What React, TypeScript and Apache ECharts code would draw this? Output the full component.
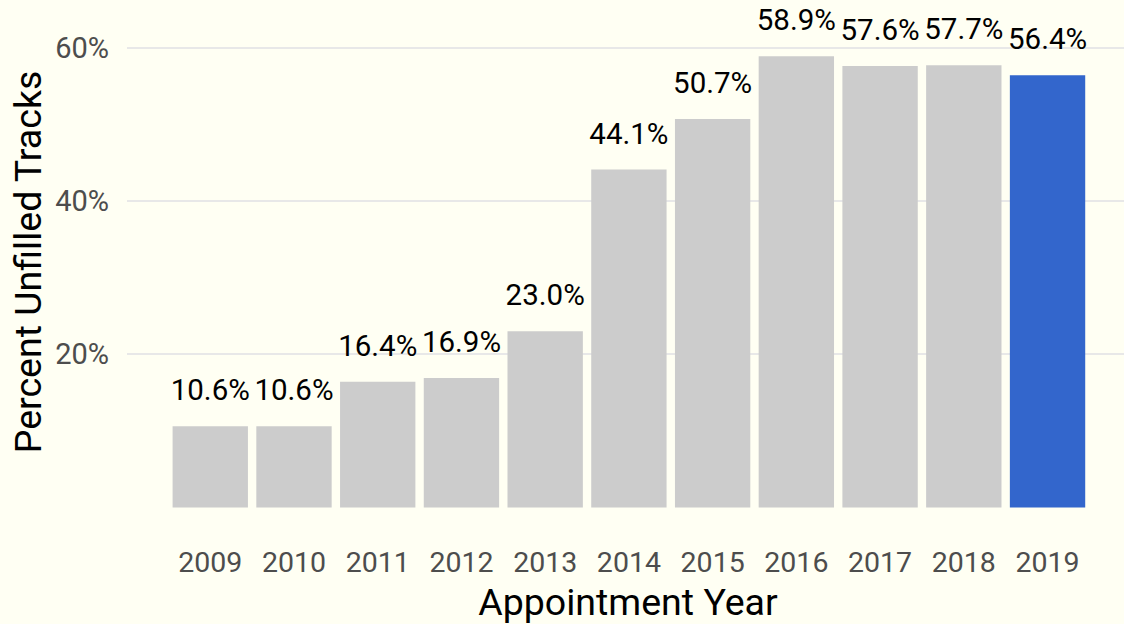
import React, { useEffect, useRef } from "react";
import * as echarts from "echarts";

const years = ["2009", "2010", "2011", "2012", "2013", "2014", "2015", "2016", "2017", "2018", "2019"];
const values = [10.6, 10.6, 16.4, 16.9, 23.0, 44.1, 50.7, 58.9, 57.6, 57.7, 56.4];
const highlightYear = "2019";
const yMin = 0;
const yMax = 60;
const yStep = 20;
const xTitle = "Appointment Year";
const yTitle = "Percent Unfilled Tracks";

const BG = "#FFFFF3";
const FONT = "Roboto";

export default function App() {
  const ref = useRef<HTMLDivElement>(null);
  useEffect(() => {
    if (!ref.current) return;
    const chart = echarts.init(ref.current, undefined, { renderer: "svg" });
    const top = 47.7;
    const bottom = 624 - 507.5;
    chart.setOption({
      animation: false,
      backgroundColor: BG,
      textStyle: { fontFamily: FONT },
      grid: [
        { left: 127, right: 0, top, bottom },
        { left: 168.4, right: 34.6, top, bottom },
      ],
      xAxis: [
        { type: "category", gridIndex: 0, data: years, show: false },
        {
          type: "category",
          gridIndex: 1,
          data: years,
          axisLine: { show: false },
          axisTick: { show: false },
          axisLabel: {
            color: "#4D4D4D",
            fontSize: 28.5,
            fontFamily: FONT,
            margin: 40,
            interval: 0,
            hideOverlap: false,
          },
        },
      ],
      yAxis: [
        {
          type: "value",
          gridIndex: 0,
          min: yMin,
          max: yMax,
          interval: yStep,
          axisLine: { show: false },
          axisTick: { show: false },
          axisLabel: {
            color: "#4D4D4D",
            fontSize: 29,
            fontFamily: FONT,
            margin: 18,
            formatter: (v: number) => (v === 0 ? "" : v + "%"),
          },
          splitLine: {
            show: true,
            lineStyle: { color: ["transparent", "#E8E8E8", "#E8E8E8", "#E8E8E8"], width: 2.2 },
          },
        },
        { type: "value", gridIndex: 1, min: yMin, max: yMax, interval: yStep, show: false },
      ],
      series: [
        {
          type: "bar",
          xAxisIndex: 1,
          yAxisIndex: 1,
          barWidth: "90%",
          data: values.map((v, i) => ({
            value: v,
            itemStyle: { color: years[i] === highlightYear ? "#3366CC" : "#CCCCCC" },
          })),
          label: {
            show: true,
            position: "top",
            distance: 21,
            color: "#000000",
            fontSize: 29.5,
            fontFamily: FONT,
            formatter: (p: any) => Number(p.value).toFixed(1) + "%",
          },
        },
      ],
      graphic: [
        {
          type: "text",
          x: 628,
          y: 602,
          style: {
            text: xTitle,
            fontSize: 37.5,
            fontFamily: FONT,
            fill: "#000000",
            textAlign: "center",
            textVerticalAlign: "middle",
          },
        },
        {
          type: "text",
          x: 28,
          y: 262,
          rotation: Math.PI / 2,
          style: {
            text: yTitle,
            fontSize: 37.5,
            fontFamily: FONT,
            fill: "#000000",
            textAlign: "center",
            textVerticalAlign: "middle",
          },
        },
      ],
    });
    return () => chart.dispose();
  }, []);
  return (
    <div
      ref={ref}
      style={{ position: "absolute", left: 0, top: 0, width: 1124, height: 624 }}
    />
  );
}
